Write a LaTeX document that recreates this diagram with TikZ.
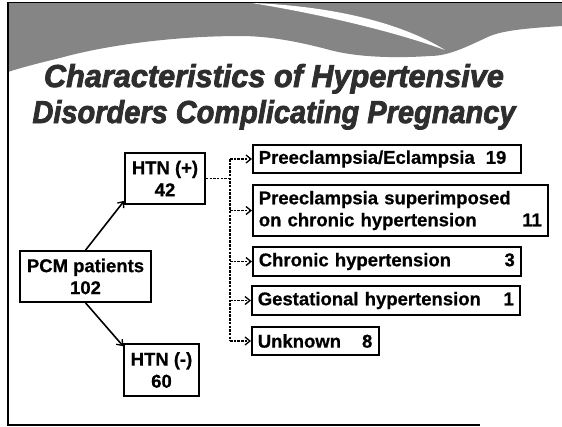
\documentclass[tikz,border=0pt]{standalone}
\usepackage{fontspec}
\usepackage{graphicx}
\setmainfont{Liberation Sans}[BoldFeatures={FakeBold=0.6}]
\newfontfamily\titlefont{Liberation Sans}[FakeBold=2.5]
\usetikzlibrary{arrows.meta}

\begin{document}
\begin{tikzpicture}[x=1pt,y=-1pt,
  box/.style={draw=black, line width=1.6pt, fill=white, inner xsep=6pt, inner ysep=2pt,
    font=\bfseries\fontsize{18.5}{22}\selectfont, anchor=west, align=left},
  cbox/.style={box, align=center, anchor=center, inner xsep=0pt},
  tip/.style={-{Straight Barb[length=5pt,width=8pt,line width=1.3pt]}},
  link/.style={line width=1.6pt, tip},
  dlink/.style={line width=1.5pt, dash pattern=on 2.5pt off 1.2pt},
  titleline/.style={anchor=base, text=black!82, inner sep=0pt},
  ]
\useasboundingbox (0,0) rectangle (562,426);
\fill[white] (0,0) rectangle (562,426);

% dark wave band along the top
\fill[black!48] (8,3) -- (562,3) -- (562,26)
  .. controls (530,28) and (505,30) .. (490,36)
  .. controls (470,45) and (450,56) .. (430,56)
  .. controls (400,58) and (360,58) .. (330,50)
  .. controls (300,42) and (270,36) .. (240,36)
  .. controls (180,36) and (110,44) .. (60,58)
  .. controls (35,64) and (20,68) .. (8,72) -- cycle;
% light swoosh crossing the band
\fill[white] (252,3) .. controls (330,6) and (400,22) .. (445,50)
  .. controls (395,32) and (325,15) .. (252,3) -- cycle;

% slide frame
\draw[line width=1.8pt] (562,2.5) -- (8,2.5) -- (8,425) -- (480,425);

% title
\node[titleline] (t1) at (274,87)
  {\resizebox{460pt}{23pt}{\titlefont\bfseries\itshape Characteristics of Hypertensive}};
\node[titleline] (t2) at (274,123)
  {\resizebox{483pt}{23pt}{\titlefont\bfseries\itshape Disorders Complicating Pregnancy}};

% tree nodes
\node[cbox, minimum width=131pt, minimum height=51pt] (p) at (85.5,276.5) {PCM patients\\102};
\node[cbox, minimum width=80pt, minimum height=51pt] (h1) at (165,178.5) {HTN (+)\\42};
\node[cbox, minimum width=75pt, minimum height=52pt] (h2) at (161.5,370) {HTN (-)\\60};

\node[box, minimum height=28pt, text width=256pt] (b1) at (252,159)
  {Preeclampsia/Eclampsia\hspace{11pt}19};
\node[box, minimum height=51pt, text width=283pt] (b2) at (252,210.5)
  {Preeclampsia superimposed\\on chronic hypertension\hfill 11\hspace*{8pt}};
\node[box, minimum height=29pt, text width=256pt] (b3) at (252,261.5)
  {Chronic hypertension\hfill 3\hspace*{3pt}};
\node[box, minimum height=29pt, text width=256pt] (b4) at (251,300.5)
  {Gestational hypertension\hfill 1\hspace*{4pt}};
\node[box, minimum height=28pt, text width=115pt] (b5) at (251,341)
  {Unknown\hspace{21pt}8};

% connectors
\draw[link] (p.north) -- ([yshift=4pt]h1.south west);
\draw[link] (p.south) -- ([yshift=-3pt]h2.north west);

\coordinate (tx) at (230,0);
\draw[dlink] (h1.east) -- (tx |- h1.east);
\draw[dlink] (tx |- b1.west) -- (tx |- b5.west);
\foreach \b in {b1,b2,b3,b4,b5}
  \draw[dlink, tip] (tx |- \b.west) -- (\b.west);
\end{tikzpicture}
\end{document}
